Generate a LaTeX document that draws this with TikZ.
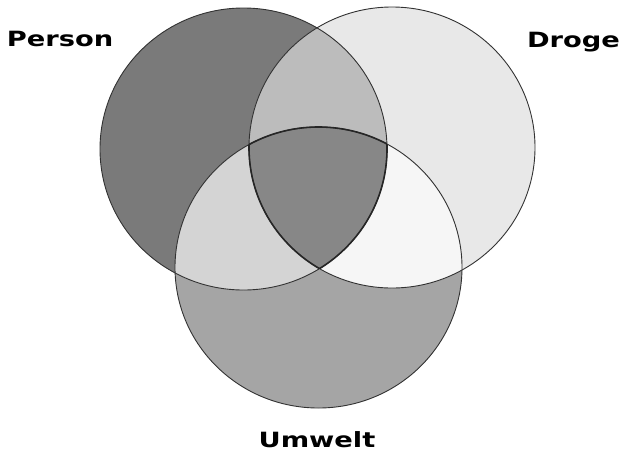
\documentclass[tikz,border=0pt]{standalone}
\usepackage{fontspec}
\setmainfont{DejaVu Sans}
\definecolor{colP}{RGB}{122,122,122}
\definecolor{colD}{RGB}{232,232,232}
\definecolor{colU}{RGB}{165,165,165}
\definecolor{colPD}{RGB}{188,188,188}
\definecolor{colPU}{RGB}{212,212,212}
\definecolor{colDU}{RGB}{246,246,246}
\definecolor{colC}{RGB}{135,135,135}
\definecolor{edge}{RGB}{50,50,50}
\begin{document}
\begin{tikzpicture}[x=1pt,y=-1pt,
  lbl/.style={font=\bfseries\fontsize{21}{21}\selectfont,anchor=base,xscale=1.3,inner sep=0pt},
  rim/.style={draw=edge,line width=0.9pt},
  corerim/.style={draw=black!85,line width=1.6pt}]
\useasboundingbox (0,0) rectangle (623,456);
\def\P{(243.5,149) ellipse [x radius=143.5, y radius=141]}
\def\D{(392,147.5) ellipse [x radius=143, y radius=140.5]}
\def\U{(318.5,267.5) ellipse [x radius=143.5, y radius=140.5]}
% single regions
\fill[colP] \P;
\fill[colD] \D;
\fill[colU] \U;
% pairwise
\begin{scope}\clip \P; \fill[colPD] \D; \end{scope}
\begin{scope}\clip \P; \fill[colPU] \U; \end{scope}
\begin{scope}\clip \D; \fill[colDU] \U; \end{scope}
% centre
\begin{scope}\clip \P; \clip \D; \fill[colC] \U; \end{scope}
% outlines
\draw[rim] \P;
\draw[rim] \D;
\draw[rim] \U;
% bold centre outline
\begin{scope}\clip \P; \clip \D; \draw[corerim] \U; \end{scope}
\begin{scope}\clip \P; \clip \U; \draw[corerim] \D; \end{scope}
\begin{scope}\clip \D; \clip \U; \draw[corerim] \P; \end{scope}
% labels
\node[lbl] (person) at (60,46) {Person};
\node[lbl] (droge) at (573.5,47) {Droge};
\node[lbl] (umwelt) at (317,447) {Umwelt};
\end{tikzpicture}
\end{document}
